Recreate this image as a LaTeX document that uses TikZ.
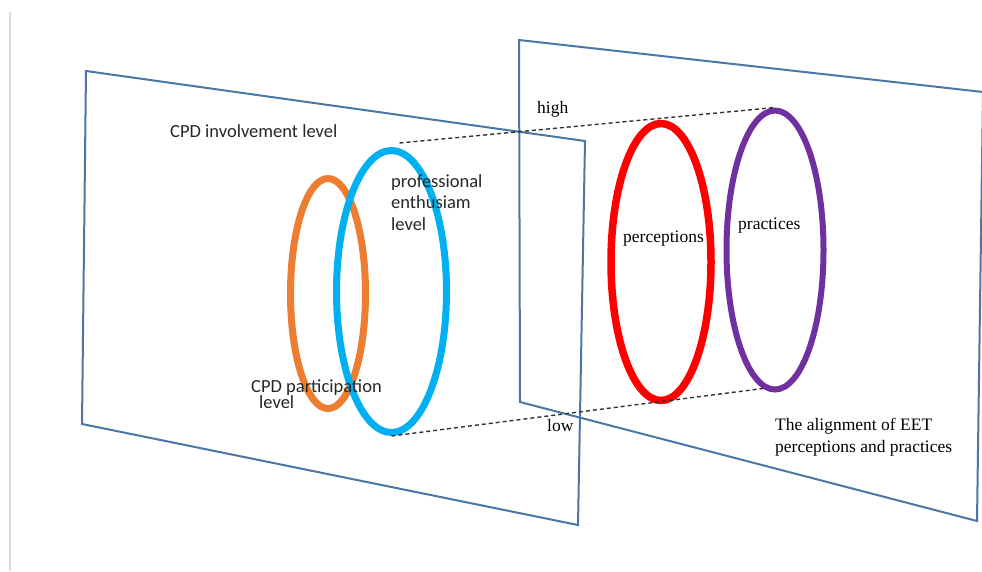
\documentclass[tikz,border=0pt]{standalone}
\usepackage{fontspec}
\setmainfont{Liberation Serif}
\newfontfamily\calibrifont{Carlito}
\usetikzlibrary{shapes.geometric}
\definecolor{planeblue}{HTML}{4A77A6}
\definecolor{ellorange}{HTML}{ED7D31}
\definecolor{ellcyan}{HTML}{00B0F0}
\definecolor{ellred}{HTML}{FF0000}
\definecolor{ellpurple}{HTML}{7030A0}
\definecolor{edgegray}{HTML}{D9D9D9}
\tikzset{
  plane/.style={draw=planeblue, line width=2pt, line join=miter},
  ell/.style={ellipse, inner sep=0pt, fill=none},
  sanslabel/.style={font=\calibrifont\fontsize{18.5}{21.5}\selectfont, anchor=base west, inner sep=0pt, text=black!85},
  seriflabel/.style={font=\fontsize{17.5}{22}\selectfont, anchor=base west, inner sep=0pt},
  guide/.style={draw=black!80, line width=1.4pt, dash pattern=on 4pt off 3pt}
}
\begin{document}
\begin{tikzpicture}[x=1pt,y=-1pt]
\useasboundingbox (0,0) rectangle (982,571);
\fill[white] (0,0) rectangle (982,571);
\draw[edgegray, line width=2pt] (10,12) -- (10,571);
% planes
\draw[plane] (86,71) -- (585,141) -- (578,525) -- (82,424) -- cycle;
\draw[plane] (519,40) -- (983,92) -- (977,521) -- (520,402) -- cycle;
% ellipses
\node[ell, draw=ellorange, line width=7pt, minimum width=75pt, minimum height=230pt] (orange) at (328,293.5) {};
\node[ell, draw=ellcyan, line width=7pt, minimum width=110pt, minimum height=282pt] (blue) at (391.5,291.5) {};
\node[ell, draw=ellred, line width=7.5pt, minimum width=100pt, minimum height=277pt] (red) at (661,262) {};
\node[ell, draw=ellpurple, line width=6pt, minimum width=97pt, minimum height=279pt] (purple) at (775,250) {};
% dashed guides
\coordinate (hstart) at ([xshift=8pt,yshift=4pt]blue.north);
\draw[guide] (hstart) -- (purple.north);
\draw[guide] (blue.south) -- (purple.265);
% labels
\node[sanslabel] (inv) at (170,137) {CPD involvement level};
\node[sanslabel, align=left] (enth) at (391,230) {professional\\enthusiam\\level};
\node[sanslabel, align=left, font=\calibrifont\fontsize{18.5}{16}\selectfont] (part) at (251,408) {CPD participation\\\hspace*{8pt}level};
\node[seriflabel] (high) at (537,113) {high};
\node[seriflabel] (low) at (547,431) {low};
\node[seriflabel] (perc) at (623,242) {perceptions};
\node[seriflabel] (prac) at (738,229) {practices};
\node[seriflabel, align=left, font=\fontsize{17.5}{22}\selectfont] (align) at (775,452) {The alignment of EET\\perceptions and practices};
\end{tikzpicture}
\end{document}
